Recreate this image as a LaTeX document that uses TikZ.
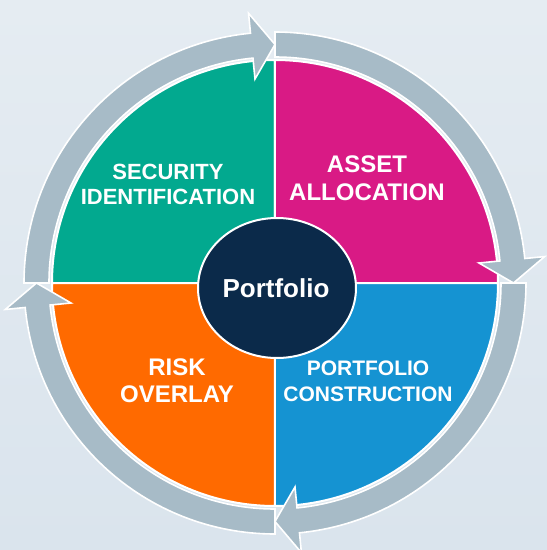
\documentclass[tikz,border=0pt]{standalone}
\usepackage{fontspec}
\setmainfont{Liberation Sans}
\usetikzlibrary{shapes.geometric}
\definecolor{bgtop}{HTML}{E5ECF2}
\definecolor{bgbot}{HTML}{DAE4ED}
\definecolor{ringc}{HTML}{A7BBC7}
\definecolor{greenq}{HTML}{02A98F}
\definecolor{magq}{HTML}{D91A85}
\definecolor{blueq}{HTML}{1593D2}
\definecolor{orangeq}{HTML}{FF6A00}
\definecolor{navy}{HTML}{0B2A4A}
\begin{document}
\begin{tikzpicture}[x=1pt,y=1pt,
  quad/.style={draw=white, line width=2pt},
  ringseg/.style={fill=ringc, draw=white, line width=1.6pt, line join=miter},
  lbl/.style={text=white, font=\bfseries, align=center, inner sep=0pt}]
% background
\shade[top color=bgtop, bottom color=bgbot] (-275,-267) rectangle (272,283);
\useasboundingbox (-275,-267) rectangle (272,283);
% pie quadrants
\def\pr{223}
\fill[greenq, quad] (0,0) -- (180:\pr) arc[start angle=180, end angle=90, radius=\pr] -- cycle;
\fill[magq, quad] (0,0) -- (90:\pr) arc[start angle=90, end angle=0, radius=\pr] -- cycle;
\fill[blueq, quad] (0,0) -- (0:\pr) arc[start angle=0, end angle=-90, radius=\pr] -- cycle;
\fill[orangeq, quad] (0,0) -- (-90:\pr) arc[start angle=-90, end angle=-180, radius=\pr] -- cycle;
% ring arrows
\foreach \s in {180,90,0,-90}{
  \pgfmathsetmacro{\e}{\s-90}
  \pgfmathsetmacro{\b}{\e+5.6}
  \filldraw[ringseg] (\s:251) arc[start angle=\s, end angle=\b, radius=251]
    -- (\b:271) -- (\e:238.5) -- (\b:205) -- (\b:226)
    arc[start angle=\b, end angle=\s, radius=226] -- cycle;
}
% centre
\node[ellipse, fill=navy, draw=white, line width=2pt, minimum width=158pt, minimum height=140pt, inner sep=0pt] (hub) at (2,-5) {};
\node[lbl, font=\bfseries\fontsize{26}{30}\selectfont] (hubt) at (1,-5) {Portfolio};
% labels
\node[lbl, font=\bfseries\fontsize{22}{25}\selectfont] (sec) at (-107,98.5) {SECURITY\\IDENTIFICATION};
\node[lbl, font=\bfseries\fontsize{24}{28}\selectfont] (asset) at (92,105) {ASSET\\ALLOCATION};
\node[lbl, font=\bfseries\fontsize{24}{27}\selectfont] (risk) at (-98,-97.5) {RISK\\OVERLAY};
\node[lbl, font=\bfseries\fontsize{21}{26}\selectfont] (pc) at (93,-98) {PORTFOLIO\\CONSTRUCTION};
\end{tikzpicture}
\end{document}
